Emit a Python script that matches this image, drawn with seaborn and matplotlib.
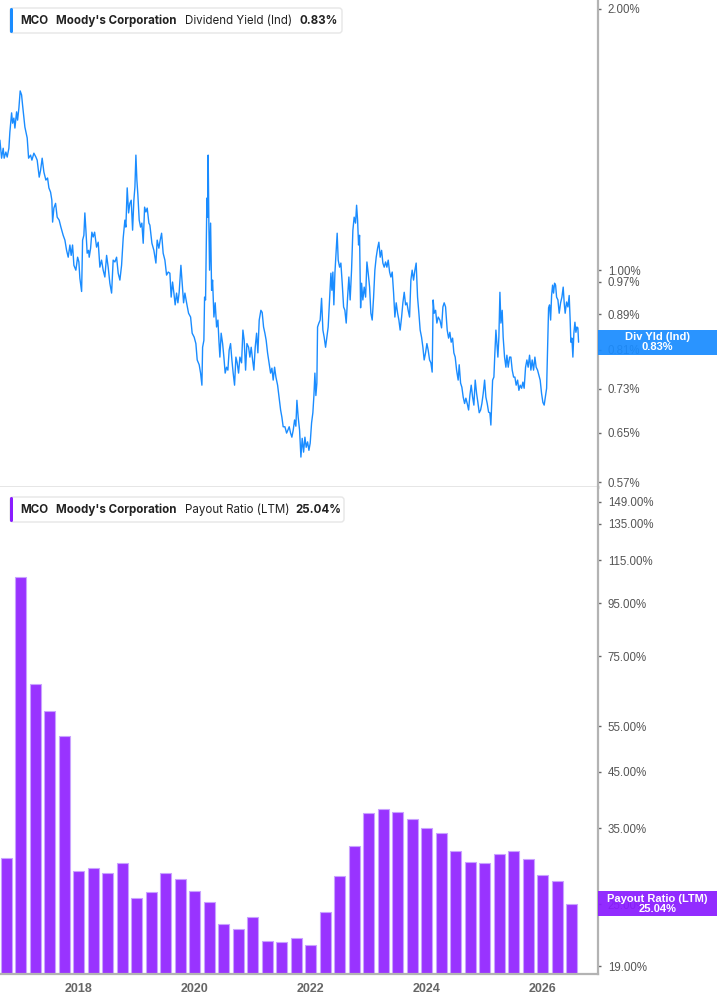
import matplotlib
matplotlib.use("Agg")
import matplotlib.pyplot as plt
from matplotlib.patches import FancyBboxPatch, Rectangle
from matplotlib.transforms import IdentityTransform
from matplotlib.ticker import NullLocator, NullFormatter, FixedLocator, FixedFormatter
import seaborn as sns

# ---- data ----
# Dividend yield (indicated), %, MCO
yield_dates = [
    2016.638, 2016.667, 2016.695, 2016.712, 2016.741, 2016.764, 2016.793, 2016.810, 2016.840, 2016.857,
    2016.879, 2016.897, 2016.926, 2016.943, 2016.966, 2016.988, 2017.012, 2017.029, 2017.069, 2017.109,
    2017.133, 2017.167, 2017.190, 2017.224, 2017.259, 2017.281, 2017.316, 2017.340, 2017.367, 2017.397,
    2017.431, 2017.460, 2017.483, 2017.512, 2017.534, 2017.547, 2017.569, 2017.598, 2017.626, 2017.660,
    2017.690, 2017.729, 2017.759, 2017.788, 2017.816, 2017.845, 2017.867, 2017.891, 2017.914, 2017.948,
    2017.978, 2018.000, 2018.017, 2018.047, 2018.064, 2018.086, 2018.103, 2018.121, 2018.143, 2018.167,
    2018.178, 2018.202, 2018.224, 2018.247, 2018.271, 2018.305, 2018.333, 2018.362, 2018.391, 2018.419,
    2018.448, 2018.478, 2018.505, 2018.534, 2018.564, 2018.591, 2018.621, 2018.650, 2018.678, 2018.707,
    2018.736, 2018.764, 2018.793, 2018.810, 2018.833, 2018.857, 2018.879, 2018.902, 2018.926, 2018.948,
    2018.966, 2018.983, 2019.000, 2019.017, 2019.040, 2019.064, 2019.086, 2019.109, 2019.133, 2019.155,
    2019.178, 2019.207, 2019.224, 2019.259, 2019.293, 2019.328, 2019.350, 2019.379, 2019.402, 2019.426,
    2019.453, 2019.483, 2019.512, 2019.540, 2019.569, 2019.591, 2019.615, 2019.638, 2019.660, 2019.684,
    2019.707, 2019.729, 2019.759, 2019.781, 2019.805, 2019.828, 2019.857, 2019.891, 2019.926, 2019.953,
    2019.988, 2020.017, 2020.040, 2020.074, 2020.098, 2020.121, 2020.133, 2020.155, 2020.167, 2020.184,
    2020.195, 2020.207, 2020.219, 2020.229, 2020.241, 2020.253, 2020.271, 2020.288, 2020.305, 2020.328,
    2020.350, 2020.374, 2020.397, 2020.414, 2020.431, 2020.453, 2020.478, 2020.500, 2020.522, 2020.546,
    2020.569, 2020.591, 2020.615, 2020.638, 2020.660, 2020.684, 2020.707, 2020.729, 2020.753, 2020.776,
    2020.805, 2020.828, 2020.850, 2020.874, 2020.897, 2020.926, 2020.948, 2020.971, 2020.995, 2021.017,
    2021.040, 2021.064, 2021.086, 2021.109, 2021.138, 2021.160, 2021.184, 2021.207, 2021.229, 2021.253,
    2021.276, 2021.305, 2021.328, 2021.350, 2021.374, 2021.397, 2021.426, 2021.453, 2021.478, 2021.500,
    2021.522, 2021.552, 2021.581, 2021.603, 2021.626, 2021.650, 2021.672, 2021.695, 2021.719, 2021.741,
    2021.759, 2021.781, 2021.805, 2021.828, 2021.850, 2021.874, 2021.897, 2021.919, 2021.943, 2021.966,
    2021.988, 2022.012, 2022.034, 2022.052, 2022.069, 2022.086, 2022.103, 2022.115, 2022.138, 2022.160,
    2022.184, 2022.207, 2022.229, 2022.253, 2022.276, 2022.298, 2022.322, 2022.345, 2022.362, 2022.379,
    2022.396, 2022.414, 2022.436, 2022.453, 2022.471, 2022.495, 2022.517, 2022.540, 2022.564, 2022.586,
    2022.609, 2022.633, 2022.655, 2022.677, 2022.701, 2022.724, 2022.746, 2022.770, 2022.788, 2022.805,
    2022.822, 2022.839, 2022.857, 2022.874, 2022.896, 2022.919, 2022.943, 2022.966, 2022.988, 2023.012,
    2023.034, 2023.057, 2023.081, 2023.103, 2023.126, 2023.150, 2023.172, 2023.195, 2023.219, 2023.241,
    2023.264, 2023.288, 2023.310, 2023.333, 2023.357, 2023.379, 2023.402, 2023.426, 2023.448, 2023.471,
    2023.495, 2023.517, 2023.539, 2023.564, 2023.586, 2023.609, 2023.633, 2023.655, 2023.677, 2023.701,
    2023.724, 2023.746, 2023.770, 2023.793, 2023.815, 2023.839, 2023.862, 2023.884, 2023.908, 2023.931,
    2023.953, 2023.977, 2024.000, 2024.022, 2024.046, 2024.069, 2024.091, 2024.108, 2024.126, 2024.150,
    2024.172, 2024.195, 2024.224, 2024.253, 2024.276, 2024.298, 2024.322, 2024.350, 2024.374, 2024.396,
    2024.419, 2024.443, 2024.465, 2024.488, 2024.512, 2024.539, 2024.557, 2024.581, 2024.603, 2024.626,
    2024.650, 2024.672, 2024.695, 2024.719, 2024.741, 2024.764, 2024.788, 2024.810, 2024.833, 2024.857,
    2024.879, 2024.902, 2024.926, 2024.948, 2024.971, 2024.995, 2025.017, 2025.040, 2025.064, 2025.086,
    2025.103, 2025.121, 2025.133, 2025.155, 2025.172, 2025.190, 2025.207, 2025.224, 2025.241, 2025.259,
    2025.276, 2025.298, 2025.315, 2025.339, 2025.362, 2025.379, 2025.402, 2025.426, 2025.448, 2025.471,
    2025.495, 2025.517, 2025.539, 2025.564, 2025.586, 2025.609, 2025.633, 2025.655, 2025.677, 2025.701,
    2025.724, 2025.746, 2025.770, 2025.793, 2025.815, 2025.839, 2025.862, 2025.884, 2025.908, 2025.931,
    2025.953, 2025.977, 2026.000, 2026.022, 2026.046, 2026.064, 2026.081, 2026.098, 2026.115, 2026.133,
    2026.150, 2026.167, 2026.184, 2026.201, 2026.219, 2026.236, 2026.259, 2026.281, 2026.305, 2026.328,
    2026.350, 2026.367, 2026.384, 2026.408, 2026.431, 2026.453, 2026.470, 2026.482, 2026.500, 2026.517,
    2026.534, 2026.552, 2026.569, 2026.586, 2026.603, 2026.615,
]
yield_pct = [
    1.412, 1.346, 1.382, 1.346, 1.368, 1.350, 1.382, 1.442, 1.518, 1.477,
    1.497, 1.458, 1.522, 1.489, 1.538, 1.609, 1.592, 1.550, 1.462, 1.420,
    1.346, 1.357, 1.339, 1.364, 1.350, 1.339, 1.280, 1.304, 1.346, 1.297,
    1.270, 1.277, 1.244, 1.230, 1.204, 1.136, 1.179, 1.194, 1.151, 1.142,
    1.121, 1.097, 1.083, 1.054, 1.035, 1.069, 1.040, 1.069, 1.013, 1.000,
    1.035, 1.022, 0.979, 0.945, 1.083, 1.097, 1.164, 1.112, 1.046, 1.054,
    1.035, 1.060, 1.106, 1.092, 1.106, 1.063, 1.077, 1.008, 1.027, 1.000,
    0.982, 1.040, 1.008, 0.966, 0.941, 1.027, 1.022, 1.035, 0.992, 0.974,
    1.013, 1.089, 1.142, 1.121, 1.244, 1.164, 1.194, 1.204, 1.112, 1.204,
    1.247, 1.357, 1.270, 1.221, 1.142, 1.121, 1.133, 1.074, 1.182, 1.167,
    1.179, 1.133, 1.127, 1.074, 1.054, 1.019, 1.083, 1.060, 1.083, 1.103,
    1.046, 1.027, 0.987, 0.995, 0.992, 0.931, 0.969, 0.941, 0.912, 0.941,
    0.917, 0.943, 1.013, 0.966, 0.917, 0.941, 0.917, 0.892, 0.883, 0.846,
    0.837, 0.823, 0.788, 0.778, 0.761, 0.737, 0.815, 0.830, 0.931, 0.924,
    1.054, 1.211, 1.151, 1.357, 1.133, 1.000, 1.133, 0.948, 0.974, 0.883,
    0.917, 0.860, 0.876, 0.830, 0.794, 0.846, 0.823, 0.794, 0.761, 0.773,
    0.767, 0.809, 0.823, 0.788, 0.761, 0.737, 0.794, 0.782, 0.761, 0.794,
    0.782, 0.853, 0.830, 0.767, 0.823, 0.815, 0.794, 0.815, 0.788, 0.767,
    0.815, 0.846, 0.803, 0.876, 0.899, 0.894, 0.860, 0.846, 0.830, 0.803,
    0.784, 0.761, 0.771, 0.747, 0.773, 0.753, 0.737, 0.712, 0.690, 0.677,
    0.660, 0.660, 0.649, 0.654, 0.660, 0.649, 0.642, 0.654, 0.672, 0.661,
    0.708, 0.677, 0.654, 0.609, 0.640, 0.617, 0.642, 0.625, 0.634, 0.620,
    0.632, 0.667, 0.685, 0.717, 0.761, 0.717, 0.741, 0.860, 0.869, 0.876,
    0.928, 0.853, 0.837, 0.815, 0.837, 0.860, 0.924, 0.992, 0.948, 0.995,
    0.912, 0.992, 1.054, 1.103, 1.027, 1.008, 1.019, 0.966, 0.907, 0.899,
    0.869, 0.931, 0.982, 0.924, 1.000, 1.112, 1.151, 1.133, 1.188, 1.142,
    1.069, 1.097, 0.905, 0.966, 0.924, 0.956, 0.931, 1.022, 0.992, 0.956,
    0.892, 0.876, 0.931, 1.000, 1.035, 1.060, 1.077, 1.035, 1.054, 1.019,
    1.008, 1.022, 1.008, 1.027, 0.995, 0.982, 0.995, 0.941, 0.883, 0.917,
    0.892, 0.876, 0.853, 0.883, 0.917, 0.943, 0.912, 0.917, 0.899, 0.883,
    0.974, 1.000, 0.974, 1.000, 1.019, 0.931, 0.892, 0.853, 0.837, 0.815,
    0.788, 0.803, 0.823, 0.809, 0.788, 0.782, 0.763, 0.924, 0.892, 0.899,
    0.869, 0.883, 0.876, 0.858, 0.907, 0.917, 0.907, 0.853, 0.835, 0.848,
    0.826, 0.835, 0.803, 0.794, 0.767, 0.747, 0.778, 0.741, 0.733, 0.714,
    0.702, 0.712, 0.702, 0.690, 0.717, 0.737, 0.714, 0.699, 0.747, 0.721,
    0.704, 0.685, 0.690, 0.702, 0.721, 0.747, 0.714, 0.702, 0.686, 0.685,
    0.663, 0.714, 0.747, 0.753, 0.803, 0.853, 0.823, 0.794, 0.837, 0.943,
    0.869, 0.899, 0.837, 0.794, 0.773, 0.798, 0.773, 0.794, 0.794, 0.767,
    0.753, 0.753, 0.737, 0.747, 0.727, 0.737, 0.731, 0.743, 0.731, 0.773,
    0.788, 0.773, 0.798, 0.767, 0.788, 0.767, 0.794, 0.773, 0.767, 0.757,
    0.747, 0.721, 0.704, 0.699, 0.717, 0.731, 0.809, 0.905, 0.912, 0.876,
    0.935, 0.961, 0.941, 0.966, 0.961, 0.931, 0.924, 0.892, 0.917, 0.931,
    0.956, 0.917, 0.892, 0.919, 0.907, 0.935, 0.876, 0.826, 0.835, 0.794,
    0.846, 0.871, 0.848, 0.860, 0.858, 0.826,
]

# Payout ratio (LTM), %, quarterly
payout_dates = [
    2016.75, 2017.00, 2017.25, 2017.50, 2017.75, 2018.00, 2018.25, 2018.50, 2018.75, 2019.00,
    2019.25, 2019.50, 2019.75, 2020.00, 2020.25, 2020.50, 2020.75, 2021.00, 2021.25, 2021.50,
    2021.75, 2022.00, 2022.25, 2022.50, 2022.75, 2023.00, 2023.25, 2023.50, 2023.75, 2024.00,
    2024.25, 2024.50, 2024.75, 2025.00, 2025.25, 2025.50, 2025.75, 2026.00, 2026.25, 2026.50,
]
payout_pct = [
    30.7, 106.5, 66.5, 58.9, 52.6, 28.9, 29.3, 28.7, 30.0, 25.7,
    26.4, 28.7, 27.9, 26.5, 25.2, 22.9, 22.4, 23.6, 21.2, 21.1,
    21.5, 20.9, 24.1, 28.3, 32.3, 37.4, 38.2, 37.7, 36.4, 35.0,
    34.2, 31.7, 30.1, 30.0, 31.2, 31.7, 30.6, 28.5, 27.7, 25.04,
]

yield_ticks = [0.57, 0.65, 0.73, 0.81, 0.89, 0.97, 1.00, 2.00]
payout_ticks = [19, 25, 35, 45, 55, 75, 95, 115, 135, 149]
year_ticks = [2018, 2020, 2022, 2024, 2026]

BLUE = "#1a8cff"
PURPLE = "#9933ff"
PURPLE_DARK = "#8a1cff"
AXIS_GRAY = "#b3b3b3"
TEXT_GRAY = "#555555"

sns.set_style("white")
plt.rcParams["font.family"] = ["Liberation Sans", "DejaVu Sans"]

W, H = 717, 1005
fig = plt.figure(figsize=(W / 100, H / 100), dpi=100)
ax1 = fig.add_axes([0, 1 - 487 / H, 598 / W, 487 / H])
ax2 = fig.add_axes([0, 1 - 974 / H, 598 / W, 487 / H])

X0, X1 = 2016.64, 2026.95

# top: dividend yield line
sns.lineplot(x=yield_dates, y=yield_pct, ax=ax1, color=BLUE, linewidth=1.0,
             estimator=None, sort=False)
ax1.set_yscale("log")
ax1.set_ylim(0.5625, 2.048)

# bottom: payout ratio bars
sns.barplot(x=payout_dates, y=payout_pct, ax=ax2, native_scale=True, width=0.76,
            color=PURPLE, saturation=1, edgecolor="#c9a2ff", linewidth=0.8,
            errorbar=None)
ax2.set_yscale("log")
ax2.set_ylim(18.34, 159)

for ax, ticks in ((ax1, yield_ticks), (ax2, payout_ticks)):
    ax.set_xlim(X0, X1)
    ax.set_xlabel("")
    ax.set_ylabel("")
    ax.yaxis.tick_right()
    ax.yaxis.set_major_locator(FixedLocator(ticks))
    ax.yaxis.set_major_formatter(FixedFormatter([f"{t:.2f}%" for t in ticks]))
    ax.yaxis.set_minor_locator(NullLocator())
    ax.yaxis.set_minor_formatter(NullFormatter())
    ax.tick_params(axis="y", which="major", direction="out", length=2.5, width=1,
                   color="#666666", labelcolor=TEXT_GRAY, labelsize=8.3, pad=4.5)
    for side in ("top", "left"):
        ax.spines[side].set_visible(False)
    ax.spines["right"].set_color(AXIS_GRAY)
    ax.spines["right"].set_linewidth(1.6)
    ax.set_facecolor("white")

ax1.set_xticks([])
ax1.spines["bottom"].set_color("#e3e3e3")
ax1.spines["bottom"].set_linewidth(2)

ax2.set_xticks(year_ticks)
ax2.set_xticklabels([str(y) for y in year_ticks])
ax2.tick_params(axis="x", direction="out", length=2.5, width=1, color="#888888",
                labelcolor="#666666", labelsize=9, pad=4)
for lab in ax2.get_xticklabels():
    lab.set_fontweight("bold")
ax2.spines["bottom"].set_color(AXIS_GRAY)
ax2.spines["bottom"].set_linewidth(1.6)

ident = IdentityTransform()


def legend_box(y_top, width, color, metric, value, value_x):
    box = FancyBboxPatch((10, H - y_top - 25), width, 25,
                         boxstyle="round,pad=0,rounding_size=3", transform=ident,
                         facecolor="white", edgecolor="#e6e6e6", linewidth=1)
    fig.add_artist(box)
    bar = FancyBboxPatch((10, H - y_top - 25), 3, 25,
                         boxstyle="round,pad=0,rounding_size=1.5", transform=ident,
                         facecolor=color, edgecolor="none")
    fig.add_artist(bar)
    yc = H - y_top - 12.5
    kw = dict(transform=ident, va="center", ha="left", fontsize=8.3,
              color="#222222", family=["Inter", "DejaVu Sans"])
    fig.text(20.5, yc, "MCO", fontweight="bold", **kw)
    fig.text(56.5, yc, "Moody's Corporation", fontweight="bold", **kw)
    fig.text(185, yc, metric, **kw)
    fig.text(value_x, yc, value, fontweight="bold", **kw)


legend_box(8, 332, BLUE, "Dividend Yield (Ind)", "0.83%", 300)
legend_box(497, 334, PURPLE_DARK, "Payout Ratio (LTM)", "25.04%", 295.7)


def value_tag(ax, value, color, title, text):
    # tag sits over the axis at the last value, as in the source chart
    yc = ax.transData.transform((X0, value))[1]
    x_left = ax.transAxes.transform((1, 0))[0]
    tag = Rectangle((x_left, yc - 12.5), W - x_left, 25, transform=ident,
                    facecolor=color, edgecolor="none", alpha=0.93, zorder=5)
    fig.add_artist(tag)
    fig.text((x_left + W) / 2, yc, f"{title}\n{text}", transform=ident,
             ha="center", va="center", fontsize=8, fontweight="bold",
             color="white", linespacing=1.05, zorder=6)


value_tag(ax1, yield_pct[-1], BLUE, "Div Yld (Ind)", "0.83%")
value_tag(ax2, payout_pct[-1], PURPLE_DARK, "Payout Ratio (LTM)", "25.04%")

fig.savefig("out.png", dpi=100, facecolor="white")
